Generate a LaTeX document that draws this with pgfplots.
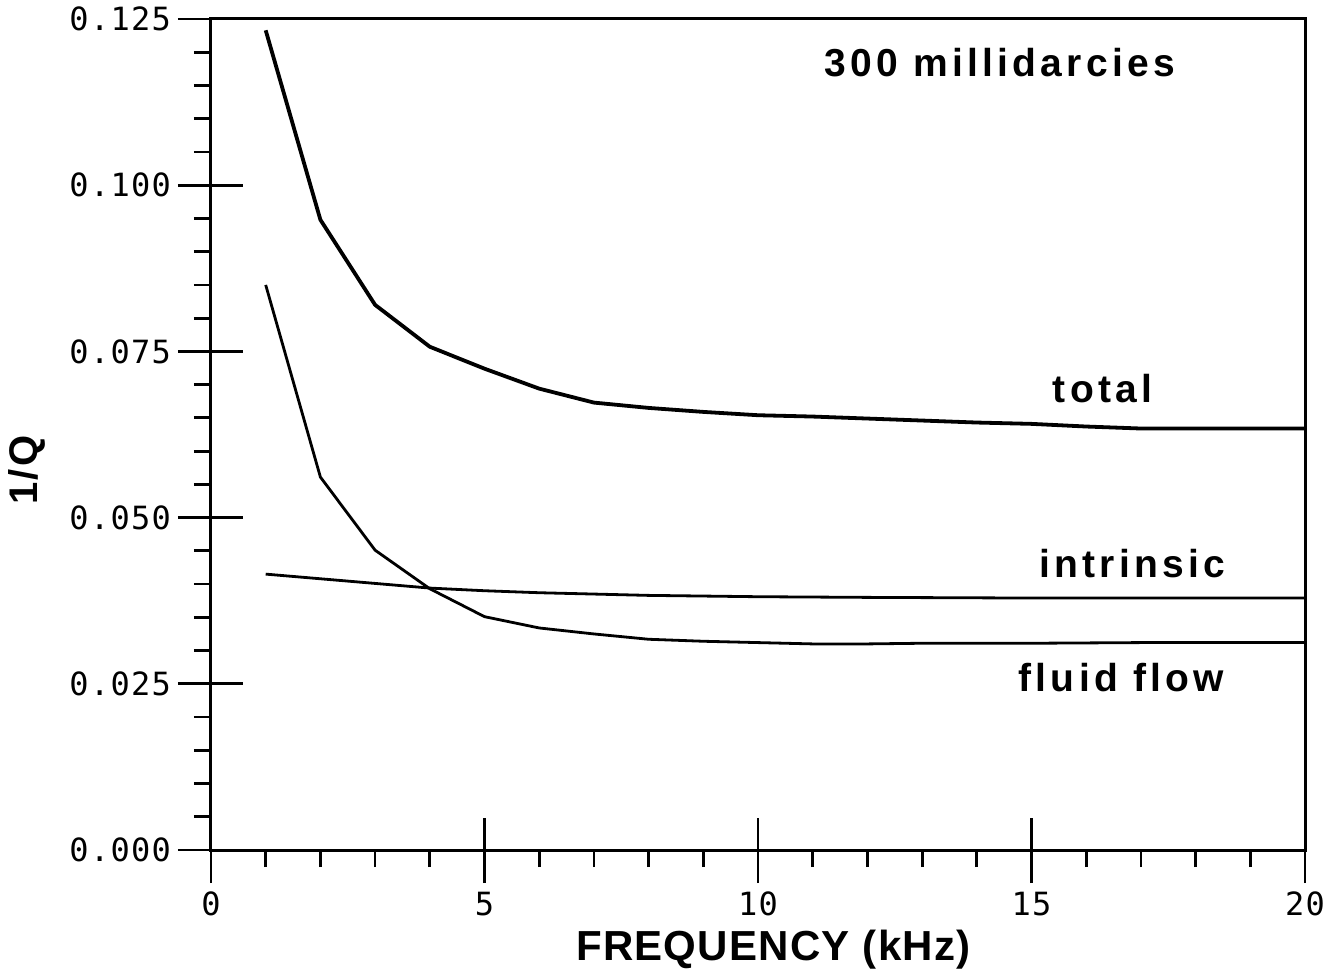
\documentclass[border=0pt]{standalone}
\usepackage{fontspec}
\setmainfont{Liberation Sans}
\newfontfamily\tickfont[LetterSpace=4]{DejaVu Sans Mono}
\usepackage{pgfplots}
\pgfplotsset{compat=1.18}

\begin{document}
\begin{tikzpicture}
\begin{axis}[
  scale only axis, width=547pt, height=415.5pt,
  xmin=0, xmax=20, ymin=0, ymax=0.125,
  axis line style={line width=1.5pt},
  every tick/.style={black, line width=1.4pt},
  tick pos=left, tick align=outside,
  major tick length=16.5pt, minor tick length=8.5pt,
  xtick={0,5,10,15,20}, minor x tick num=4,
  ytick={0,0.025,0.05,0.075,0.1,0.125}, minor y tick num=4,
  yticklabels={0.000,0.025,0.050,0.075,0.100,0.125},
  extra x ticks={5,10,15}, extra x tick labels={},
  extra y ticks={0.025,0.05,0.075,0.1}, extra y tick labels={},
  extra tick style={tick align=inside, major tick length=16pt},
  ticklabel style={font=\tickfont\fontsize{16}{16}\selectfont},
  xticklabel style={yshift=-1pt},
  /pgf/number format/assume math mode=true,
  xlabel={\bfseries\fontsize{21}{21}\selectfont\addfontfeature{LetterSpace=3}FREQUENCY (kHz)},
  ylabel={\bfseries\fontsize{20}{20}\selectfont\addfontfeature{LetterSpace=6}1/Q},
  xlabel style={at={(axis description cs:0.514,0)}, anchor=center, yshift=-50pt},
  ylabel style={at={(axis description cs:0,0.457)}, anchor=center, yshift=92pt},
]
\addplot[black, line width=1.9pt] coordinates {
 (1,0.1233) (2,0.0948) (3,0.0820) (4,0.0757) (5,0.0724) (6,0.0694) (7,0.0673)
 (8,0.0665) (9,0.0659) (10,0.0654) (11,0.0652) (12,0.0649) (13,0.0646)
 (14,0.0643) (15,0.0641) (16,0.0637) (17,0.0634) (18,0.0634) (19,0.0634) (20,0.0634)};
\addplot[black, line width=1.4pt] coordinates {
 (1,0.0415) (2,0.0408) (3,0.0401) (4,0.0394) (5,0.0390) (6,0.0387) (7,0.0385)
 (8,0.0383) (10,0.0381) (12,0.0380) (15,0.0379) (20,0.0379)};
\addplot[black, line width=1.4pt] coordinates {
 (1,0.0850) (2,0.0561) (3,0.0451) (4,0.0393) (5,0.0351) (6,0.0334) (7,0.0325)
 (8,0.0317) (9,0.0314) (10,0.0312) (11,0.0310) (12,0.0310) (13,0.0311)
 (15,0.0311) (17,0.0312) (20,0.0312)};
\node[font=\bfseries\fontsize{19.5}{19.5}\selectfont] at (axis cs:14.42,0.1184) {\addfontfeature{LetterSpace=11}300 millidarcies};
\node[font=\bfseries\fontsize{19.5}{19.5}\selectfont] at (axis cs:16.3,0.0694) {\addfontfeature{LetterSpace=11}total};
\node[font=\bfseries\fontsize{19.5}{19.5}\selectfont] at (axis cs:16.84,0.0431) {\addfontfeature{LetterSpace=11}intrinsic};
\node[font=\bfseries\fontsize{19.5}{19.5}\selectfont] at (axis cs:16.64,0.0260) {\addfontfeature{LetterSpace=11}fluid flow};
\end{axis}
\path[use as bounding box] ([shift={(-105.5pt,-62.5pt)}]current axis.south west) rectangle ([shift={(15.5pt,9.5pt)}]current axis.north east);
\end{tikzpicture}
\end{document}
